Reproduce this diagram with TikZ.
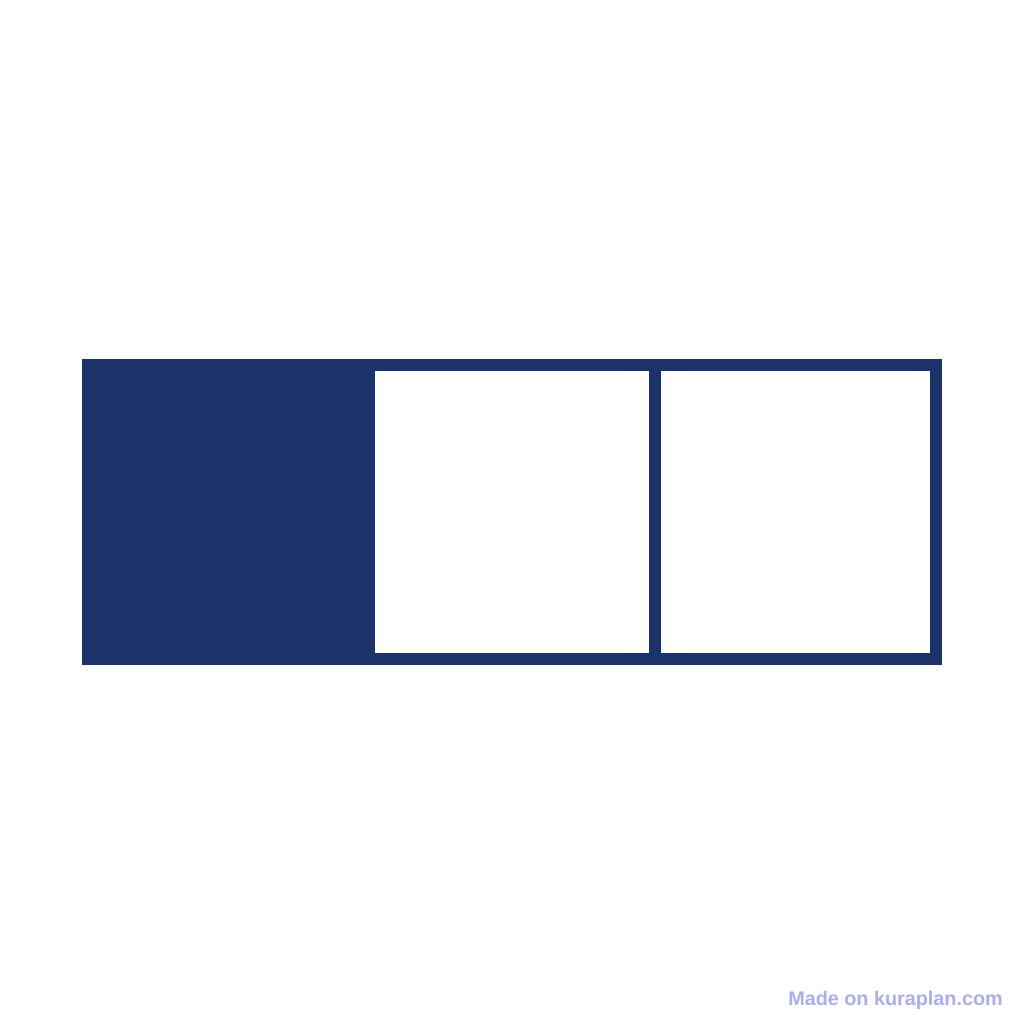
\documentclass[tikz,border=0pt]{standalone}
\usepackage{fontspec}
\setmainfont{Liberation Sans}
\definecolor{navy}{RGB}{27,50,107}
\definecolor{wm}{RGB}{172,172,242}
\begin{document}
\begin{tikzpicture}[x=1pt,y=1pt,
  frame/.style={rectangle,inner sep=0pt,outer sep=0pt,fill=navy,draw=none},
  cell/.style={rectangle,inner sep=0pt,outer sep=0pt,fill=white,draw=none}]
\useasboundingbox[fill=white] (0,0) rectangle (1024,1024);
\node[frame,minimum width=860,minimum height=306] (outer) at (512,1024-512) {};
\node[cell,minimum width=274,minimum height=282] (c1) at (512,1024-512) {};
\node[cell,minimum width=269,minimum height=282] (c2) at (795.5,1024-512) {};
\node[anchor=base east,inner sep=0pt,text=wm,font=\bfseries\fontsize{19.8}{22}\selectfont] (wmark) at (1003,1024-1006) {Made on kuraplan.com};
\end{tikzpicture}
\end{document}
